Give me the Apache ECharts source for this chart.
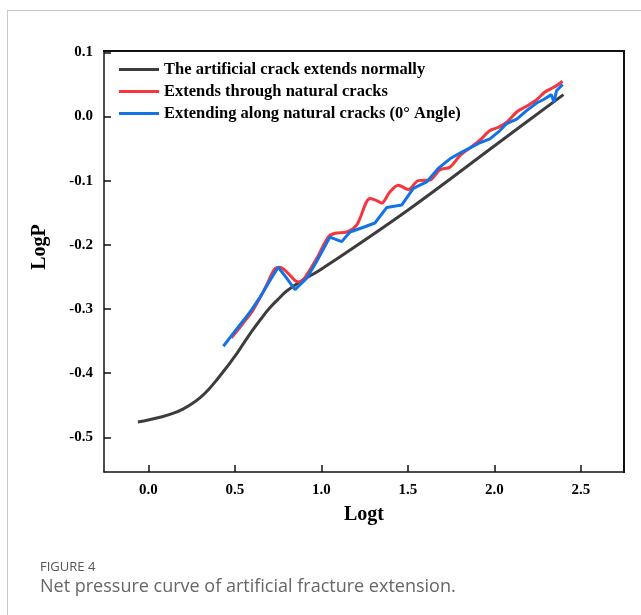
<!DOCTYPE html>
<html>
<head>
<meta charset="utf-8">
<script src="https://cdn.jsdelivr.net/npm/echarts@6/dist/echarts.min.js"></script>
<style>
  html, body { margin: 0; padding: 0; background: #fff; }
  #wrap { position: relative; width: 641px; height: 615px; }
  #chart { width: 641px; height: 615px; }
  .edge { position: absolute; background: #111; pointer-events: none; }
</style>
</head>
<body>
<div id="wrap">
  <div id="chart"></div>
  <div class="edge" id="edgeTop"></div>
  <div class="edge" id="edgeRight"></div>
</div>
<script>
// Series names
const seriesNames = [
  'The artificial crack extends normally',
  'Extends through natural cracks',
  'Extending along natural cracks (0° Angle)'
];

// Tick values
const xTicks = [0.0, 0.5, 1.0, 1.5, 2.0, 2.5];
const yTicks = [-0.5, -0.4, -0.3, -0.2, -0.1, 0.0, 0.1];

// [Logt, LogP] pairs
const normalCurve = [
  [-0.06, -0.476], [0.0, -0.473], [0.08, -0.468], [0.15, -0.462], [0.2, -0.456],
  [0.25, -0.448], [0.3, -0.438], [0.35, -0.425], [0.4, -0.409], [0.45, -0.392],
  [0.5, -0.374], [0.55, -0.354], [0.6, -0.334], [0.65, -0.316], [0.7, -0.299],
  [0.75, -0.285], [0.8, -0.272], [0.88, -0.257], [1.0, -0.238], [1.5, -0.146],
  [2.0, -0.046], [2.4, 0.034]
];

const throughCurve = [
  [0.48, -0.345], [0.54, -0.325], [0.607, -0.301], [0.68, -0.265], [0.73, -0.238],
  [0.76, -0.235], [0.8, -0.242], [0.85, -0.256], [0.877, -0.258], [0.92, -0.245],
  [0.98, -0.218], [1.04, -0.188], [1.08, -0.182], [1.147, -0.180], [1.205, -0.169],
  [1.282, -0.128], [1.32, -0.131], [1.349, -0.135], [1.395, -0.118], [1.445, -0.107],
  [1.503, -0.114], [1.561, -0.100], [1.628, -0.099], [1.686, -0.083], [1.744, -0.079],
  [1.802, -0.061], [1.86, -0.049], [1.917, -0.037], [1.975, -0.022], [2.023, -0.017],
  [2.072, -0.009], [2.13, 0.007], [2.187, 0.016], [2.245, 0.026], [2.293, 0.038],
  [2.341, 0.045], [2.395, 0.055]
];

const alongCurve = [
  [0.434, -0.358], [0.5, -0.335], [0.55, -0.318], [0.598, -0.301], [0.65, -0.28],
  [0.7, -0.257], [0.751, -0.235], [0.8, -0.252], [0.848, -0.270], [0.916, -0.252],
  [0.973, -0.226], [1.05, -0.188], [1.118, -0.195], [1.166, -0.180], [1.24, -0.173],
  [1.31, -0.166], [1.378, -0.142], [1.465, -0.138], [1.532, -0.112], [1.609, -0.102],
  [1.676, -0.081], [1.744, -0.066], [1.802, -0.057], [1.86, -0.049], [1.917, -0.041],
  [1.975, -0.035], [2.033, -0.022], [2.072, -0.011], [2.13, -0.004], [2.187, 0.009],
  [2.245, 0.021], [2.283, 0.026], [2.33, 0.034], [2.345, 0.022], [2.36, 0.040],
  [2.395, 0.050]
];

const serif = '"Liberation Serif", "Times New Roman", serif';
const sans = '"Open Sans", "Noto Sans", sans-serif';
const axisColor = '#111';

const W = 641, H = 615;
const gridBox = { left: 104, top: 51, right: 17, bottom: 143 };
const xRange = { min: -0.256, max: 2.75 };
const yRange = { min: -0.554, max: 0.102 };

// Top and right edges of the plot box (the axes draw the left and bottom).
const edgeW = 1.5;
const plotRight = W - gridBox.right;
const plotBottom = H - gridBox.bottom;
Object.assign(document.getElementById('edgeTop').style, {
  left: (gridBox.left - edgeW / 2) + 'px', top: (gridBox.top - edgeW / 2) + 'px',
  width: (plotRight - gridBox.left + edgeW) + 'px', height: edgeW + 'px'
});
Object.assign(document.getElementById('edgeRight').style, {
  left: (plotRight - edgeW / 2) + 'px', top: (gridBox.top - edgeW / 2) + 'px',
  width: edgeW + 'px', height: (plotBottom - gridBox.top + edgeW) + 'px'
});

const tickLabel = ticks => ({
  customValues: ticks, margin: 11,
  formatter: v => v.toFixed(1),
  fontFamily: serif, fontWeight: 'bold', fontSize: 15, color: '#000'
});
const tickMarks = ticks => ({
  show: true, inside: true, length: 7,
  lineStyle: { color: axisColor, width: 1.5 }, customValues: ticks
});

const chart = echarts.init(document.getElementById('chart'), null, { renderer: 'canvas' });

chart.setOption({
  animation: false,
  backgroundColor: '#fff',
  grid: gridBox,
  legend: {
    orient: 'vertical',
    left: 114, top: 56,
    icon: 'rect',
    itemWidth: 40, itemHeight: 3, itemGap: 5,
    data: seriesNames,
    textStyle: { fontFamily: serif, fontWeight: 'bold', fontSize: 16.5, color: '#000' }
  },
  xAxis: Object.assign({
    type: 'value',
    name: 'Logt',
    nameLocation: 'middle',
    nameGap: 33,
    nameTextStyle: { fontFamily: serif, fontWeight: 'bold', fontSize: 20, color: '#000' },
    axisLine: { show: true, onZero: false, lineStyle: { color: axisColor, width: 1.5 } },
    axisTick: tickMarks(xTicks),
    axisLabel: tickLabel(xTicks),
    splitLine: { show: false }
  }, xRange),
  yAxis: Object.assign({
    type: 'value',
    axisLine: { show: true, onZero: false, lineStyle: { color: axisColor, width: 1.5 } },
    axisTick: tickMarks(yTicks),
    axisLabel: tickLabel(yTicks),
    splitLine: { show: false }
  }, yRange),
  series: [
    {
      name: seriesNames[0], type: 'line', data: normalCurve, smooth: 0.4,
      symbol: 'none', z: 2,
      lineStyle: { color: '#3d3d3d', width: 3 }, itemStyle: { color: '#3d3d3d' }
    },
    {
      name: seriesNames[1], type: 'line', data: throughCurve, smooth: 0.3,
      symbol: 'none', z: 3,
      lineStyle: { color: '#f5373d', width: 3 }, itemStyle: { color: '#f5373d' }
    },
    {
      name: seriesNames[2], type: 'line', data: alongCurve,
      symbol: 'none', z: 4,
      lineStyle: { color: '#1273e6', width: 3 }, itemStyle: { color: '#1273e6' }
    }
  ],
  graphic: [
    // page frame, left and top edges
    { type: 'rect', silent: true, shape: { x: 7, y: 10, width: 1, height: H - 10 },
      style: { fill: '#c8c8c8' } },
    { type: 'rect', silent: true, shape: { x: 7, y: 10, width: W - 7, height: 1 },
      style: { fill: '#c8c8c8' } },
    // top and right edges of the plot box, as thin filled bars
    { type: 'rect', silent: true, z: 50,
      shape: { x: gridBox.left - 0.75, y: gridBox.top - 0.75, width: plotRight - gridBox.left + 1.5, height: 1.5 },
      style: { fill: axisColor } },
    { type: 'rect', silent: true, z: 50,
      shape: { x: plotRight - 0.75, y: gridBox.top - 0.75, width: 1.5, height: plotBottom - gridBox.top + 1.5 },
      style: { fill: axisColor } },
    // y-axis title
    { type: 'text', x: 40, y: 247, rotation: Math.PI / 2,
      style: { text: 'LogP', font: 'bold 20px ' + serif, fill: '#000', align: 'center', verticalAlign: 'middle' } },
    // caption
    { type: 'text', left: 40, top: 561,
      style: { text: 'FIGURE 4', font: '500 13px ' + sans, fill: '#555' } },
    { type: 'text', left: 40, top: 578,
      style: { text: 'Net pressure curve of artificial fracture extension.', font: '18px ' + sans, fill: '#666' } }
  ]
});
</script>
</body>
</html>
